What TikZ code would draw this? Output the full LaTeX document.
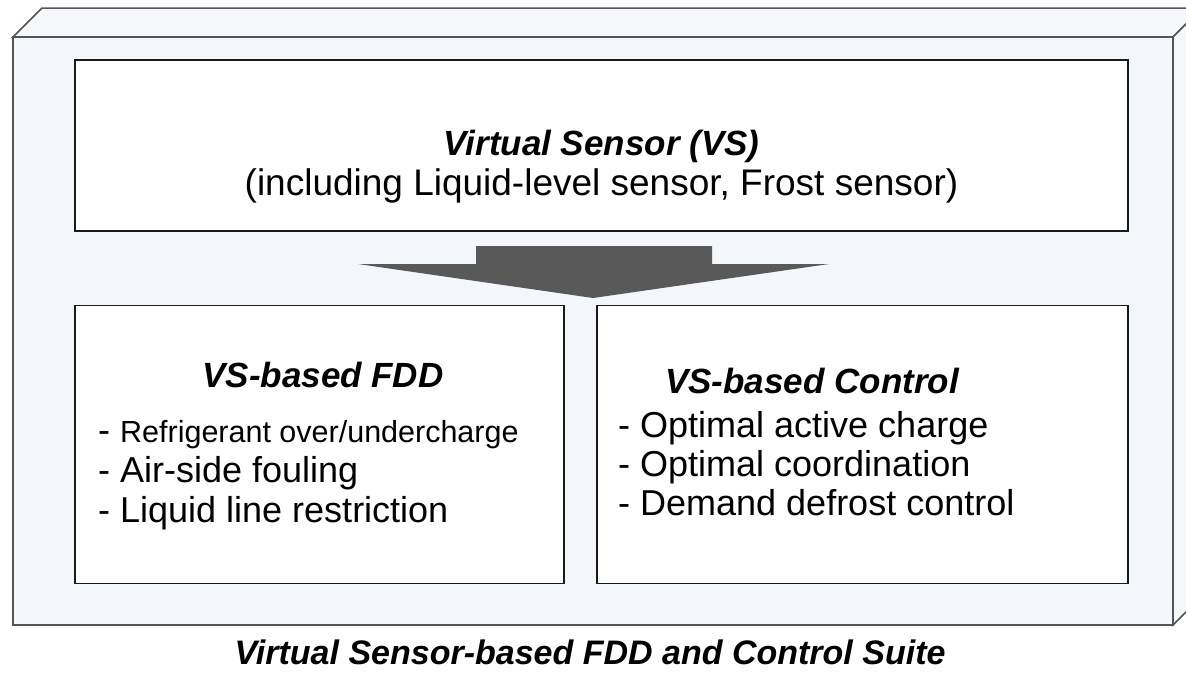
\documentclass[tikz,border=0pt]{standalone}
\usepackage{fontspec}
\setmainfont{Liberation Sans}
\usepackage{tikz}
\usetikzlibrary{positioning}
\definecolor{facefront}{HTML}{F3F6FA}
\definecolor{facetop}{HTML}{F7F8FC}
\definecolor{arrowgray}{HTML}{595959}
\definecolor{edgegray}{HTML}{555555}

\begin{document}
\begin{tikzpicture}[x=1pt,y=-1pt]
\tikzstyle{panel}=[rectangle, draw=black!90, line width=1.8pt, fill=white, inner sep=0pt]
\tikzstyle{face}=[draw=edgegray, line width=1.5pt, line join=miter]
\tikzstyle{head}=[inner sep=0pt, font=\fontsize{35}{42}\selectfont\bfseries\itshape]
\tikzstyle{item}=[inner sep=0pt, anchor=base west, font=\fontsize{36}{43}\selectfont]
  \clip (0,0) rectangle (1186,680);
  % suite box, drawn as a block
  \draw[face, fill=facetop] (13,37) -- (42,8) -- (1202,8) -- (1173,37) -- cycle;
  \draw[face, fill=facetop] (1173,37) -- (1202,8) -- (1202,596) -- (1173,625) -- cycle;
  \draw[face, fill=facefront] (13,37) rectangle (1173,625);

  \node[panel, minimum width=1053pt, minimum height=171pt] (vs) at (601.5,145.5) {};
  \node[panel, minimum width=489pt, minimum height=278pt] (fdd) at (319.5,444.5) {};
  \node[panel, minimum width=531pt, minimum height=278pt] (ctrl) at (862.5,444.5) {};

  % arrow from the sensor down to both uses
  \fill[arrowgray] (476,246) -- (712,246) -- (712,264) -- (829,264) -- (593,298)
    -- (358,264) -- (476,264) -- cycle;

  \node[head, anchor=base] (vstitle) at (601.5,155) {Virtual Sensor (VS)};
  \node[inner sep=0pt, anchor=base, font=\fontsize{37}{44}\selectfont] (vsnote) at (601.5,195)
    {(including Liquid-level sensor, Frost sensor)};

  \node[head, anchor=base] (fddtitle) at (323,387) {VS-based FDD};
  \node[item] (fdd1) at (98,442) {- {\fontsize{30.5}{36}\selectfont Refrigerant over/undercharge}};
  \node[item] (fdd2) at (98,482) {- Air-side fouling};
  \node[item] (fdd3) at (98,522) {- Liquid line restriction};

  \node[head, anchor=base west] (ctrltitle) at (665,393) {VS-based Control};
  \node[item] (ctrl1) at (618,437) {- Optimal active charge};
  \node[item] (ctrl2) at (618,476) {- Optimal coordination};
  \node[item] (ctrl3) at (618,515) {- Demand defrost control};

  \node[head, anchor=base, font=\fontsize{34}{41}\selectfont\bfseries\itshape] (suite) at (590,664)
    {Virtual Sensor-based FDD and Control Suite};
\end{tikzpicture}
\end{document}
